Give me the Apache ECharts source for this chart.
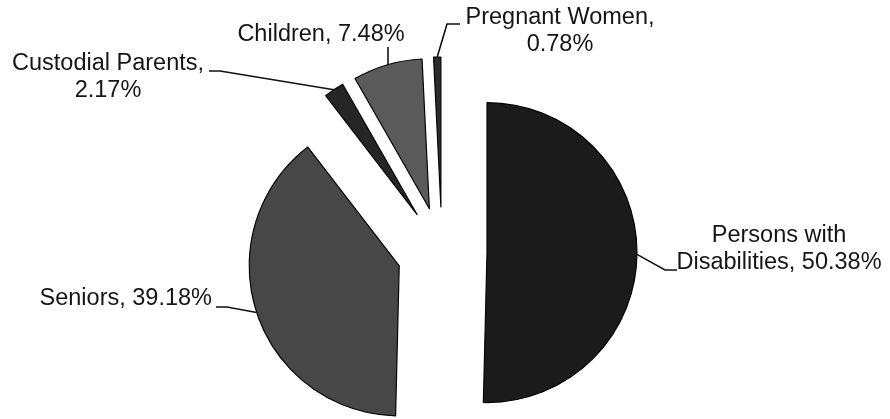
<!DOCTYPE html>
<html>
<head>
<meta charset="utf-8">
<script src="https://cdn.jsdelivr.net/npm/echarts@6/dist/echarts.min.js"></script>
<style>
  html, body { margin: 0; padding: 0; background: #ffffff; }
  #chart { width: 890px; height: 419px; }
</style>
</head>
<body>
<div id="chart"></div>
<script>
// Enrollment share by eligibility group (percent)
const groups = ['Persons with\nDisabilities', 'Seniors', 'Custodial Parents', 'Children', 'Pregnant Women'];
const shares = [50.38, 39.18, 2.17, 7.48, 0.78];
const labelJoins = [', ', ', ', ',\n', ', ', ',\n'];
const fills = ['#1b1b1b', '#474747', '#262626', '#5a5a5a', '#2c2c2c'];

const PIE_CENTER = [442, 252];
const PIE_RADIUS = 150;
const EXPLODE = 45;

// Label text anchor plus the bend and end points of each leader line
const labelPlacement = [
  { x: 779, y: 249, align: 'center', bend: [665, 270], end: [677, 270] },
  { x: 212, y: 299, align: 'right', bend: [227, 307], end: [216, 307] },
  { x: 108, y: 77, align: 'center', bend: [220, 71], end: [209, 71] },
  { x: 321, y: 35, align: 'center', anchor: [388, 65], bend: [388, 56], end: [388, 47] },
  { x: 560, y: 31, align: 'center', bend: [447, 24], end: [460, 24] }
];

const total = shares.reduce((a, b) => a + b, 0);

// Each slice gets its own pie series so it can be pulled out along its mid angle;
// the other slices in that series stay invisible but keep the angles identical.
let before = 0;
const series = shares.map((v, i) => {
  const mid = (before + v / 2) / total * 2 * Math.PI;
  before += v;
  const cx = PIE_CENTER[0] + EXPLODE * Math.sin(mid);
  const cy = PIE_CENTER[1] - EXPLODE * Math.cos(mid);
  return {
    type: 'pie',
    center: [cx, cy],
    radius: PIE_RADIUS,
    startAngle: 90,
    clockwise: true,
    avoidLabelOverlap: false,
    silent: true,
    animation: false,
    emphasis: { disabled: true },
    data: shares.map((s, j) => j === i ? {
      value: s,
      name: groups[j],
      itemStyle: { color: fills[j], borderColor: '#050505', borderWidth: 1.2 },
      label: {
        show: true,
        position: 'outside',
        formatter: p => p.name + labelJoins[p.dataIndex] + p.value.toFixed(2) + '%',
        fontFamily: '"Liberation Sans", Arial, sans-serif',
        fontSize: 23.5,
        lineHeight: 27,
        color: '#151515'
      },
      labelLine: {
        show: true,
        length: 10,
        length2: 10,
        lineStyle: { color: '#111111', width: 1.6 }
      }
    } : {
      value: s,
      name: groups[j],
      itemStyle: { color: 'rgba(0,0,0,0)', borderWidth: 0 },
      label: { show: false },
      labelLine: { show: false }
    }),
    labelLayout: p => {
      if (p.dataIndex !== p.seriesIndex) return {};
      const pl = labelPlacement[p.dataIndex];
      const anchor = pl.anchor || (p.labelLinePoints ? p.labelLinePoints[0] : pl.bend);
      return {
        x: pl.x,
        y: pl.y,
        align: pl.align,
        verticalAlign: 'middle',
        labelLinePoints: [anchor, pl.bend, pl.end]
      };
    }
  };
});

const chart = echarts.init(document.getElementById('chart'), null, { renderer: 'canvas' });
chart.setOption({
  backgroundColor: '#ffffff',
  animation: false,
  series: series
});
</script>
</body>
</html>
